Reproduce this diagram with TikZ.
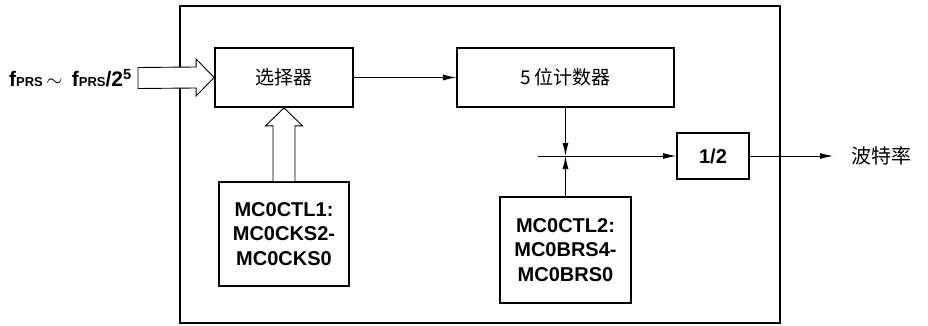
\documentclass[tikz,border=0pt]{standalone}
\usepackage{fontspec}
\setmainfont{Liberation Sans}
\newfontfamily\cjk{Noto Sans CJK SC}
\usetikzlibrary{arrows.meta,calc}

\begin{document}
\begin{tikzpicture}[x=1pt,y=-1pt,line join=miter,
  blk/.style={draw,line width=1.8pt,inner sep=0pt},
  reg/.style={blk,font=\fontsize{20}{24.5}\selectfont\bfseries,align=center},
  hollow/.style={draw,fill=white,line width=0.9pt},
  sig/.style={line width=0.9pt,-{Latex[length=13pt,width=6pt]}}]
\useasboundingbox (0,0) rectangle (928,326);
% frame of the baud-rate generator
\draw[line width=1.8pt] (180,6) rectangle (780,323);
\node[blk,minimum width=138pt,minimum height=59pt,font=\cjk\fontsize{19}{19}\selectfont] (sel) at (284,77.5) {选择器};
\node[blk,minimum width=217pt,minimum height=59pt,font=\cjk\fontsize{19}{19}\selectfont] (cnt) at (565.5,77.5) {5 位计数器};
\node[reg,minimum width=72pt,minimum height=46pt] (half) at (713,156) {1/2};
\node[reg,minimum width=130pt,minimum height=104pt] (ctla) at (284,234) {MC0CTL1:\\MC0CKS2-\\MC0CKS0};
\node[reg,minimum width=131pt,minimum height=106pt] (ctlb) at (565.5,250) {MC0CTL2:\\MC0BRS4-\\MC0BRS0};
\node[anchor=west,inner xsep=18pt,inner ysep=0pt,font=\cjk\fontsize{20}{20}\selectfont] (baud) at (833,156) {波特率};
\node[anchor=base east,inner sep=0pt,font=\bfseries] (fsrc) at (132,87)
  {\fontsize{21}{21}\selectfont f{\fontsize{13}{13}\selectfont PRS}\,$\sim$\,
   f{\fontsize{13}{13}\selectfont PRS}/2\textsuperscript{5}};
\coordinate (fin) at (138,78);
\coordinate (tap) at (538,156);
\coordinate (jn) at (cnt.south |- half.west);
% wide arrows
\draw[hollow] ($(fin)+(0,-10.5)$) -- ($(sel.west)+(-18,-10.5)$) -- ($(sel.west)+(-18,-18.5)$)
  -- (sel.west) -- ($(sel.west)+(-18,18.5)$) -- ($(sel.west)+(-18,10.5)$) -- ($(fin)+(0,10.5)$) -- cycle;
\draw[hollow] ($(ctla.north)+(-11,0)$) -- ($(sel.south)+(-11,18)$) -- ($(sel.south)+(-18.5,18)$)
  -- (sel.south) -- ($(sel.south)+(18.5,18)$) -- ($(sel.south)+(11,18)$) -- ($(ctla.north)+(11,0)$);
% signal lines
\draw[sig] (sel.east) -- (cnt.west);
\draw[sig] (cnt.south) -- (jn);
\draw[sig] (ctlb.north) -- (jn);
\draw[sig] (tap) -- (half.west);
\draw[sig] (half.east) -- (baud.west);
\end{tikzpicture}
\end{document}
